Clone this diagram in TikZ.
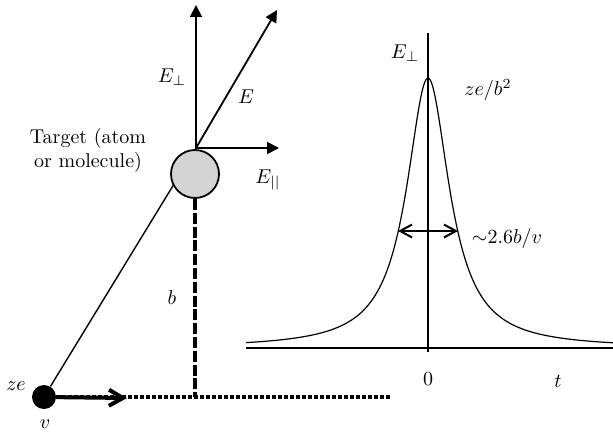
\documentclass[tikz,border=0pt]{standalone}
\usepackage{amsmath}
\usepackage{xcolor}
\usepackage{tikz}
\usetikzlibrary{positioning,arrows.meta}

\begin{document}
\begin{tikzpicture}[
  x=0.5pt, y=-0.5pt,
  atom/.style={draw, circle, fill=black!17, line width=0.9pt, minimum size=24pt, inner sep=0pt},
  charge/.style={circle, fill=black, minimum size=12pt, inner sep=0pt},
  field/.style={line width=0.9pt, -{Triangle[length=6pt, width=6pt]}},
  vel/.style={line width=2pt, -{Straight Barb[length=7pt, width=8pt]}},
  spread/.style={line width=1pt, {Straight Barb[length=6pt, width=6.5pt]}-{Straight Barb[length=6pt, width=6.5pt]}},
  track/.style={line width=2pt, dash pattern=on 1.9pt off 1.1pt},
  gap/.style={line width=2pt, dash pattern=on 5.5pt off 1.4pt},
  axis/.style={line width=1pt},
  lbl/.style={font=\normalsize, inner sep=1pt}
]
\useasboundingbox (0,0) rectangle (613,433);

\coordinate (origin) at (196,148);
\coordinate (Eperp tip) at (196,5);
\coordinate (E tip) at (277,10);
\coordinate (Epar tip) at (279,148);
\coordinate (track end) at (390,397);
\coordinate (foot) at (195,397);
\coordinate (v tip) at (127,398);

\node[charge] (q) at (44,397) {};
\draw[line width=0.7pt] (q) -- (origin);
\draw[track] (q.east) -- (track end);
\node[atom] (target) at (195,174) {};

\draw[field] (origin) -- (Eperp tip);
\draw[field] (origin) -- (E tip);
\draw[field] (origin) -- (Epar tip);
\draw[gap] (target.south) -- (foot);
\draw[vel] (q) -- (v tip);

\node[lbl] (Eperp) at (172,77) {$E_{\perp}$};
\node[lbl] (E) at (246,97) {$E$};
\node[lbl] (Epar) at (268,180) {$E_{||}$};
\node[lbl, align=center] (name) at (88,150) {Target (atom\\or molecule)};
\node[lbl] (ze) at (16,386) {$ze$};
\node[lbl] (v) at (45,424) {$v$};
\node[lbl] (b) at (172,298) {$b$};

\draw[axis] (246,348) -- (613,348);
\draw[axis] (428,33) -- (428,352);
\draw[line width=0.6pt, domain=-182:185, samples=180, smooth]
  plot ({428+\x},{348-270/(1+(\x/26)^2)});
\coordinate (left half) at (398,231);
\coordinate (right half) at (458,231);
\draw[spread] (left half) -- (right half);

\node[lbl] (Eaxis) at (405,53) {$E_{\perp}$};
\node[lbl] (peak) at (488,90) {$ze/b^2$};
\node[lbl] (width) at (507,238) {${\sim}2.6b/v$};
\node[lbl] (zero) at (428,379) {0};
\node[lbl] (t) at (558,381) {$t$};
\end{tikzpicture}
\end{document}
